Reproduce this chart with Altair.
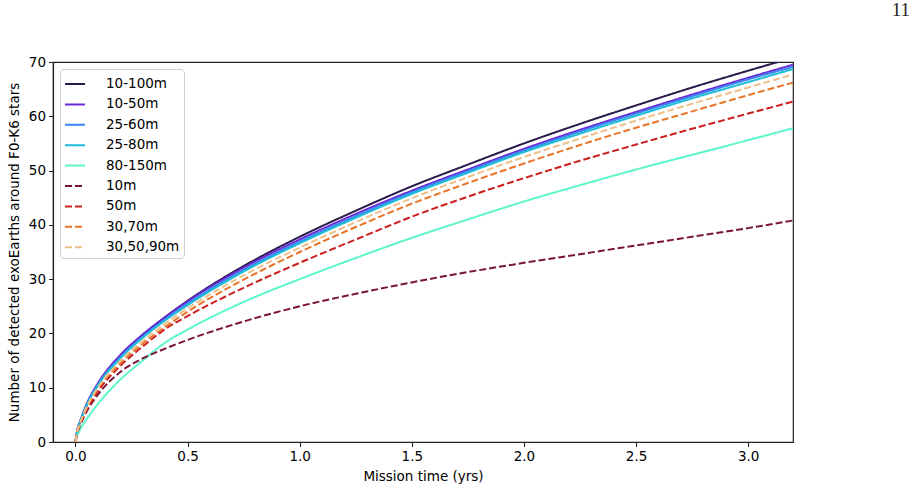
import altair as alt
import pandas as pd

# Mission time samples (years)
t_yrs = [0, 0.01, 0.02, 0.05, 0.1, 0.2, 0.3, 0.4, 0.5, 0.75, 1.0, 1.25, 1.5,
         1.75, 2.0, 2.25, 2.5, 2.75, 3.0, 3.2]

# Cumulative exoEarth yield for each telescope configuration
y_10_100m = [0, 2.4, 3.6, 6.8, 10.6, 15.9, 19.7, 23.0, 26.0, 32.4, 37.8, 42.6,
             47.1, 51.1, 55.0, 58.6, 62.0, 65.3, 68.4, 70.8]
y_10_50m = [0, 2.5, 3.7, 7.0, 10.8, 16.0, 19.8, 23.0, 25.9, 32.1, 37.3, 42.0,
            46.3, 50.2, 54.0, 57.5, 60.8, 64.0, 67.1, 69.5]
y_25_60m = [0, 2.4, 3.6, 6.8, 10.5, 15.6, 19.4, 22.6, 25.5, 31.7, 36.9, 41.6,
            46.0, 49.9, 53.7, 57.2, 60.5, 63.7, 66.8, 69.1]
y_25_80m = [0, 2.3, 3.5, 6.7, 10.4, 15.4, 19.2, 22.4, 25.2, 31.4, 36.6, 41.3,
            45.7, 49.6, 53.4, 56.8, 60.1, 63.3, 66.3, 68.7]
y_80_150m = [0, 1.3, 2.2, 4.2, 7.0, 11.5, 15.0, 18.3, 20.7, 25.8, 30.0, 33.9,
             37.6, 41.0, 44.3, 47.3, 50.2, 52.9, 55.6, 57.8]
y_10m = [0, 2.0, 3.0, 5.6, 8.7, 12.9, 15.4, 17.2, 18.8, 22.2, 25.0, 27.3,
         29.4, 31.3, 33.0, 34.6, 36.2, 37.8, 39.4, 40.8]
y_50m = [0, 2.0, 3.1, 5.9, 9.3, 14.0, 17.6, 20.8, 23.2, 28.4, 33.0, 37.3,
         41.5, 45.2, 48.6, 51.8, 54.8, 57.7, 60.5, 62.7]
y_30_70m = [0, 2.2, 3.3, 6.3, 9.8, 14.5, 18.1, 21.2, 24.0, 29.9, 35.0, 39.6,
            43.9, 47.7, 51.3, 54.7, 57.9, 60.9, 63.9, 66.2]
y_30_50_90m = [0, 2.2, 3.4, 6.4, 10.0, 14.9, 18.6, 21.8, 24.6, 30.7, 35.8, 40.5,
               44.9, 48.8, 52.5, 55.9, 59.2, 62.3, 65.3, 67.7]

series_names = ["10-100m", "10-50m", "25-60m", "25-80m", "80-150m",
                "10m", "50m", "30,70m", "30,50,90m"]
series_values = [y_10_100m, y_10_50m, y_25_60m, y_25_80m, y_80_150m,
                 y_10m, y_50m, y_30_70m, y_30_50_90m]
series_colors = ["#2b1a4c", "#6a2ad8", "#3b86ee", "#1cbdd6", "#5ef6cc",
                 "#7a1538", "#cc1f1f", "#e8742a", "#ecc087"]
solid = [1, 0]
dashed = [7, 3]
series_dashes = [solid] * 5 + [dashed] * 4

rows = []
for order, (name, vals) in enumerate(zip(series_names, series_values)):
    for t, v in zip(t_yrs, vals):
        rows.append({"series": name, "t": t, "v": v, "k": order})
df = pd.DataFrame(rows)

legend = alt.Legend(
    title=None,
    orient="top-left",
    offset=7,
    padding=4,
    symbolType="stroke",
    symbolSize=400,
    symbolStrokeWidth=2,
    labelFontSize=13.5,
    labelFont="DejaVu Sans",
    labelColor="black",
    labelOffset=20,
    rowPadding=2.4,
    fillColor="white",
    strokeColor="#d0d0d0",
    cornerRadius=4,
)

chart = (
    alt.Chart(df)
    .mark_line(clip=True, strokeWidth=2, interpolate="monotone")
    .encode(
        x=alt.X(
            "t:Q",
            scale=alt.Scale(domain=[-0.1, 3.2], nice=False, zero=False),
            axis=alt.Axis(values=[0, 0.5, 1.0, 1.5, 2.0, 2.5, 3.0], format=".1f",
                          title="Mission time (yrs)"),
        ),
        y=alt.Y(
            "v:Q",
            scale=alt.Scale(domain=[0, 70], nice=False),
            axis=alt.Axis(values=list(range(0, 71, 10)),
                          title="Number of detected exoEarths around F0-K6 stars",
                          titleY=190, titleAlign="center"),
        ),
        color=alt.Color("series:N",
                        scale=alt.Scale(domain=series_names, range=series_colors),
                        legend=legend),
        strokeDash=alt.StrokeDash("series:N",
                                  scale=alt.Scale(domain=series_names, range=series_dashes),
                                  legend=legend),
        order=alt.Order("k:Q"),
        detail="series:N",
    )
    .properties(
        width=740,
        height=380,
        title=alt.TitleParams("11", anchor="end", frame="group", dx=117, offset=20,
                              baseline="alphabetic", font="Liberation Serif",
                              fontSize=19, fontWeight="normal", color="#222222"),
        padding={"left": 53, "top": 62, "right": 123, "bottom": 49},
        autosize=alt.AutoSizeParams(type="none"),
    )
    .configure_view(stroke="#222222", strokeWidth=1.2)
    .configure_axis(
        grid=False,
        domainColor="#222222",
        domainWidth=1.2,
        tickColor="#222222",
        tickSize=4.5,
        labelFont="DejaVu Sans",
        labelFontSize=13.5,
        labelColor="black",
        labelPadding=3,
        titleFont="DejaVu Sans",
        titleFontSize=13.5,
        titleFontWeight="normal",
        titleColor="black",
    )
    .configure_axisY(titlePadding=7)
    .configure_axisX(titlePadding=6)
)

chart.save("out.html", embed_options={"renderer": "svg", "actions": False})
